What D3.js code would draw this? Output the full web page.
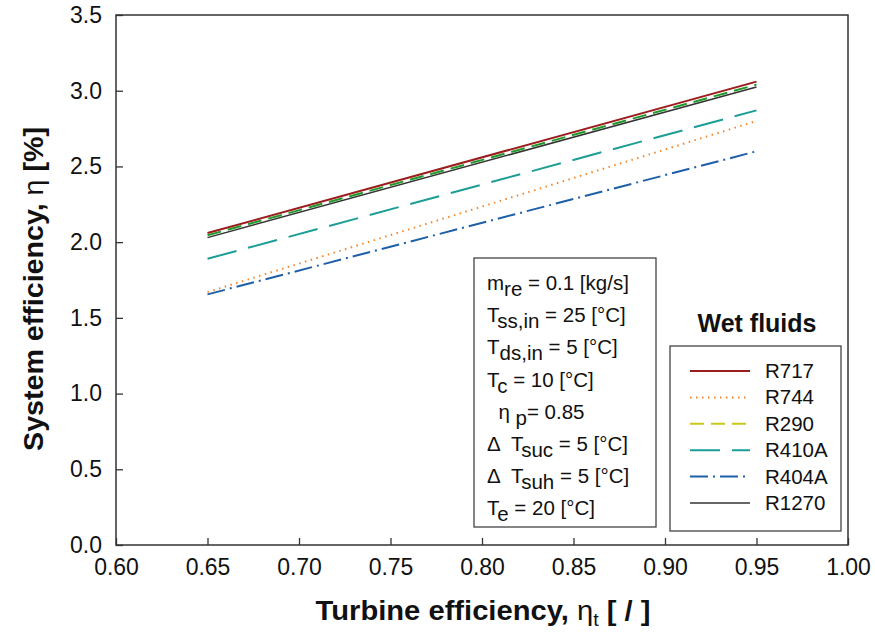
<!DOCTYPE html>
<html><head><meta charset="utf-8">
<script src="https://cdn.jsdelivr.net/npm/d3@7"></script>
<style>body{margin:0;background:#fff}svg{font-family:"Liberation Sans",Arial,sans-serif}</style>
</head><body><svg id="c" width="875" height="636"></svg>
<script>
const xTicks = [0.60,0.65,0.70,0.75,0.80,0.85,0.90,0.95,1.00];
const yTicks = [0.0,0.5,1.0,1.5,2.0,2.5,3.0,3.5];
const turbineEff = [0.65, 0.95];
const seriesNames = ["R717","R744","R290","R410A","R404A","R1270"];
const R717  = [2.06, 3.06];
const R744  = [1.67, 2.80];
const R290  = [2.045, 3.04];
const R410A = [1.89, 2.87];
const R404A = [1.655, 2.60];
const R1270 = [2.03, 3.025];
const infoLines = [
  ["m","re"," = 0.1 [kg/s]"],
  ["T","ss,in"," = 25 [°C]"],
  ["T","ds,in"," = 5 [°C]"],
  ["T","c"," = 10 [°C]"],
  ["  η ","p","= 0.85"],
  ["Δ  T","suc"," = 5 [°C]"],
  ["Δ  T","suh"," = 5 [°C]"],
  ["T","e"," = 20 [°C]"]
];

const styles = {
  R717:  {color:"#9b1c1c", legend:"#9b1c1c", dash:null, w:2},
  R744:  {color:"#f5862a", legend:"#f5862a", dash:"1.5,4.5", w:2},
  R290:  {color:"#1f9a2a", legend:"#c8c81e", dash:"14,7", w:2},
  R410A: {color:"#1c9e96", legend:"#1c9e96", dash:"30,12", w:2},
  R404A: {color:"#1f5fa8", legend:"#1f5fa8", dash:"18,5,2,5", w:2},
  R1270: {color:"#333333", legend:"#333333", dash:null, w:1.5}
};
const data = {R717,R744,R290,R410A,R404A,R1270};

const svg = d3.select("#c");
const L=116,R=848,T=15,B=545;
const x = d3.scaleLinear().domain([0.6,1.0]).range([L,R]);
const y = d3.scaleLinear().domain([0,3.5]).range([B,T]);

svg.append("rect").attr("x",L).attr("y",T).attr("width",R-L).attr("height",B-T)
  .attr("fill","none").attr("stroke","#333").attr("stroke-width",1.5);

const xa = svg.append("g").attr("transform",`translate(0,${B})`)
  .call(d3.axisBottom(x).tickValues(xTicks).tickFormat(d3.format(".2f")).tickSizeInner(-7).tickSizeOuter(0).tickPadding(14));
xa.select(".domain").remove();
xa.selectAll("line").attr("stroke","#333").attr("stroke-width",1.3);
xa.selectAll("text").attr("font-size",23).attr("fill","#111").attr("font-family","Liberation Sans, Arial");

const ya = svg.append("g").attr("transform",`translate(${L},0)`)
  .call(d3.axisLeft(y).tickValues(yTicks).tickFormat(d3.format(".1f")).tickSizeInner(-7).tickSizeOuter(0).tickPadding(14));
ya.select(".domain").remove();
ya.selectAll("line").attr("stroke","#333").attr("stroke-width",1.3);
ya.selectAll("text").attr("font-size",23).attr("fill","#111").attr("font-family","Liberation Sans, Arial");

const line = d3.line().x((d,i)=>x(turbineEff[i])).y(d=>y(d));
["R404A","R744","R410A","R1270","R290","R717"].forEach(n=>{
  const s=styles[n];
  svg.append("path").datum(data[n]).attr("d",line).attr("fill","none")
    .attr("stroke",s.color).attr("stroke-width",s.w)
    .attr("stroke-dasharray",s.dash);
});

const xt = svg.append("text").attr("transform","translate(483,620) scale(1.08,1)").attr("text-anchor","middle")
  .attr("font-size",27).attr("font-weight","bold").attr("fill","#111");
xt.append("tspan").text("Turbine efficiency, ");
xt.append("tspan").attr("font-weight","normal").text("η");
xt.append("tspan").attr("font-weight","normal").attr("font-size",18).attr("dy",6).text("t");
xt.append("tspan").attr("dy",-6).text("  [ / ]");

const yt = svg.append("text").attr("transform","translate(43,289) rotate(-90) scale(1.06,1)").attr("text-anchor","middle")
  .attr("font-size",27).attr("font-weight","bold").attr("fill","#111");
yt.append("tspan").text("System efficiency, ");
yt.append("tspan").attr("font-weight","normal").text("η");
yt.append("tspan").text("  [%]");

svg.append("rect").attr("x",474).attr("y",258).attr("width",182).attr("height",269)
  .attr("fill","#fff").attr("stroke","#444").attr("stroke-width",1.3);
infoLines.forEach((l,i)=>{
  const t = svg.append("text").attr("x",487).attr("y",290+i*32.2).attr("font-size",20.5)
    .attr("fill","#111").style("white-space","pre");
  t.append("tspan").text(l[0]);
  t.append("tspan").attr("dy",6).text(l[1]);
  t.append("tspan").attr("dy",-6).text(l[2]);
});

svg.append("text").attr("x",757).attr("y",332).attr("text-anchor","middle")
  .attr("font-size",25).attr("font-weight","bold").attr("fill","#111").text("Wet fluids");
svg.append("rect").attr("x",670).attr("y",346).attr("width",171).attr("height",185)
  .attr("fill","#fff").attr("stroke","#444").attr("stroke-width",1.3);
seriesNames.forEach((n,i)=>{
  const yy = 371+i*26.4, s=styles[n];
  svg.append("line").attr("x1",690).attr("x2",750).attr("y1",yy).attr("y2",yy)
    .attr("stroke",s.legend).attr("stroke-width",s.w).attr("stroke-dasharray",s.dash);
  svg.append("text").attr("x",765).attr("y",yy+7).attr("font-size",20.5).attr("fill","#111").text(n);
});
</script></body></html>
